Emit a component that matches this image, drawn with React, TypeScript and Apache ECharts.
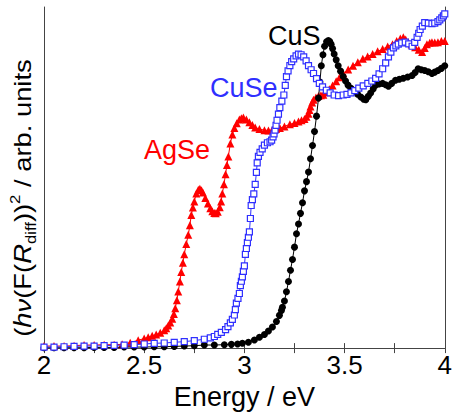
import React, { useEffect, useRef } from 'react';
import * as echarts from 'echarts';

const energyTicks = [2, 2.5, 3, 3.5, 4];

const agseEnergy = [2.00, 2.05, 2.10, 2.15, 2.20, 2.25, 2.30, 2.35, 2.39, 2.43, 2.47, 2.50, 2.52, 2.54, 2.56, 2.58, 2.60, 2.61, 2.62, 2.63, 2.64, 2.648, 2.655, 2.663, 2.67, 2.678, 2.685, 2.693, 2.70, 2.71, 2.72, 2.728, 2.735, 2.743, 2.75, 2.76, 2.77, 2.778, 2.786, 2.793, 2.805, 2.818, 2.83, 2.84, 2.85, 2.857, 2.867, 2.877, 2.884, 2.89, 2.898, 2.906, 2.913, 2.92, 2.93, 2.94, 2.95, 2.962, 2.975, 2.985, 2.995, 3.01, 3.025, 3.04, 3.054, 3.075, 3.10, 3.12, 3.138, 3.158, 3.177, 3.20, 3.227, 3.25, 3.27, 3.285, 3.30, 3.31, 3.32, 3.325, 3.33, 3.338, 3.345, 3.357, 3.37, 3.382, 3.394, 3.41, 3.424, 3.44, 3.458, 3.475, 3.493, 3.518, 3.542, 3.566, 3.591, 3.615, 3.64, 3.665, 3.69, 3.715, 3.739, 3.76, 3.778, 3.793, 3.805, 3.818, 3.835, 3.852, 3.87, 3.887, 3.90, 3.911, 3.925, 3.936, 3.95, 3.966, 3.983, 4.00];
const agseIntensity = [0.6, 0.6, 0.6, 0.7, 0.9, 0.9, 1.0, 1.0, 1.1, 1.6, 2.3, 2.8, 3.2, 3.6, 4.0, 4.5, 5.2, 5.8, 6.6, 7.5, 8.6, 10.0, 11.7, 14.0, 16.6, 19.5, 22.3, 25.0, 27.5, 30.5, 33.2, 36.0, 39.0, 41.2, 43.0, 45.3, 46.4, 46.7, 46.3, 45.6, 44.0, 42.4, 41.0, 40.1, 39.6, 39.5, 40.0, 41.3, 43.0, 45.3, 48.0, 51.0, 53.7, 56.2, 60.0, 62.6, 64.5, 65.9, 67.0, 67.4, 67.6, 67.0, 66.2, 65.4, 64.7, 64.2, 63.9, 63.8, 63.9, 64.2, 64.5, 65.0, 65.6, 66.0, 66.4, 66.8, 67.2, 67.8, 68.7, 69.8, 70.8, 72.0, 72.8, 73.5, 73.9, 74.1, 74.3, 75.0, 75.9, 77.0, 78.2, 79.4, 80.5, 81.7, 82.8, 83.8, 84.8, 85.5, 86.2, 87.0, 87.7, 88.4, 89.1, 90.0, 90.8, 91.1, 90.5, 89.7, 89.0, 88.2, 87.5, 86.8, 88.0, 89.1, 89.5, 89.7, 89.6, 89.7, 90.0, 90.0];

const cuseEnergy = [2.00, 2.05, 2.10, 2.15, 2.20, 2.25, 2.30, 2.35, 2.40, 2.45, 2.50, 2.55, 2.60, 2.65, 2.70, 2.75, 2.80, 2.83, 2.85, 2.867, 2.885, 2.906, 2.918, 2.93, 2.94, 2.95, 2.955, 2.96, 2.968, 2.975, 2.98, 2.985, 2.99, 2.995, 3.00, 3.005, 3.01, 3.015, 3.02, 3.025, 3.03, 3.034, 3.04, 3.047, 3.054, 3.06, 3.064, 3.07, 3.078, 3.089, 3.10, 3.115, 3.128, 3.136, 3.143, 3.148, 3.153, 3.158, 3.163, 3.17, 3.177, 3.187, 3.197, 3.204, 3.21, 3.218, 3.227, 3.236, 3.246, 3.258, 3.27, 3.283, 3.296, 3.308, 3.32, 3.333, 3.345, 3.36, 3.374, 3.39, 3.409, 3.428, 3.448, 3.47, 3.493, 3.512, 3.532, 3.551, 3.571, 3.593, 3.616, 3.636, 3.655, 3.672, 3.69, 3.705, 3.719, 3.731, 3.744, 3.756, 3.768, 3.785, 3.803, 3.82, 3.837, 3.85, 3.862, 3.87, 3.877, 3.888, 3.90, 3.918, 3.936, 3.95, 3.966, 3.975, 3.985, 3.993, 4.00];
const cuseIntensity = [0.3, 0.3, 0.4, 0.5, 0.6, 0.6, 0.7, 0.8, 0.9, 1.0, 1.2, 1.4, 1.5, 1.7, 1.9, 2.2, 2.6, 3.0, 3.4, 4.0, 4.6, 5.4, 6.3, 7.4, 8.4, 9.7, 11.3, 13.2, 14.6, 16.0, 18.3, 19.6, 20.9, 22.5, 24.1, 27.5, 29.2, 30.9, 32.5, 34.1, 38.0, 41.8, 43.5, 45.2, 48.0, 51.5, 54.3, 56.2, 57.4, 58.4, 59.5, 60.2, 60.5, 61.0, 61.9, 62.8, 63.9, 65.3, 66.8, 68.6, 70.5, 72.4, 74.2, 77.0, 79.6, 81.3, 82.8, 84.0, 84.8, 85.7, 86.2, 86.0, 85.4, 84.2, 82.8, 81.6, 80.5, 79.0, 77.6, 76.6, 75.6, 74.8, 74.2, 74.0, 74.2, 74.4, 74.8, 75.5, 76.2, 76.9, 77.6, 78.3, 79.1, 80.4, 81.9, 83.6, 85.4, 86.8, 88.0, 88.6, 89.1, 89.5, 89.7, 89.2, 88.5, 89.6, 91.1, 92.3, 93.4, 94.4, 95.4, 95.3, 95.1, 95.3, 95.7, 96.2, 96.8, 97.4, 98.0];

const cusEnergy = [2.00, 2.05, 2.10, 2.15, 2.20, 2.25, 2.30, 2.35, 2.40, 2.45, 2.50, 2.55, 2.60, 2.65, 2.70, 2.75, 2.80, 2.85, 2.90, 2.935, 2.966, 2.99, 3.02, 3.05, 3.075, 3.10, 3.12, 3.14, 3.16, 3.175, 3.185, 3.19, 3.20, 3.21, 3.22, 3.23, 3.24, 3.25, 3.26, 3.27, 3.28, 3.29, 3.30, 3.31, 3.32, 3.33, 3.34, 3.35, 3.36, 3.37, 3.377, 3.384, 3.392, 3.40, 3.41, 3.419, 3.426, 3.433, 3.44, 3.448, 3.458, 3.468, 3.48, 3.493, 3.505, 3.517, 3.532, 3.547, 3.565, 3.581, 3.595, 3.606, 3.618, 3.63, 3.643, 3.655, 3.672, 3.69, 3.705, 3.719, 3.735, 3.754, 3.773, 3.793, 3.815, 3.837, 3.852, 3.867, 3.883, 3.90, 3.918, 3.936, 3.95, 3.966, 3.983, 4.00];
const cusIntensity = [0.1, 0.1, 0.1, 0.1, 0.1, 0.2, 0.2, 0.2, 0.3, 0.3, 0.3, 0.4, 0.4, 0.5, 0.6, 0.7, 0.9, 0.9, 1.0, 1.1, 1.2, 1.4, 1.7, 2.4, 3.2, 4.0, 5.0, 6.2, 7.8, 9.6, 11.0, 12.0, 13.8, 16.5, 19.5, 22.8, 26.0, 29.6, 33.5, 36.4, 39.5, 42.6, 46.1, 48.8, 51.6, 55.5, 59.4, 63.5, 68.0, 73.3, 78.0, 82.8, 86.0, 88.5, 89.8, 90.2, 89.9, 89.1, 87.8, 86.2, 84.5, 82.8, 81.2, 79.6, 78.3, 77.1, 76.2, 75.3, 74.4, 73.6, 73.0, 72.8, 73.8, 74.8, 76.0, 77.1, 77.4, 77.6, 77.2, 76.8, 77.6, 78.5, 78.8, 79.1, 79.5, 79.9, 80.8, 81.9, 81.6, 81.4, 81.0, 80.5, 80.9, 81.4, 82.0, 82.8];

const FONT = 'Liberation Sans, Arial, sans-serif';
const RED = '#ff0000';
const BLUE = '#2f2fff';
const BLACK = '#000000';
const FRAME = '#444444';

const pair = (xs: number[], ys: number[]) => xs.map((x, i) => [x, ys[i]]);

export default function App() {
  const ref = useRef<HTMLDivElement>(null);
  useEffect(() => {
    if (!ref.current) return;
    const chart = echarts.init(ref.current, null, { renderer: 'svg' });
    const axisCommon = {
      type: 'value',
      min: 2,
      max: 4,
      interval: 0.25,
      axisLine: { show: true, lineStyle: { color: FRAME, width: 1 } },
      axisTick: { show: true, inside: true, length: 5, lineStyle: { color: FRAME, width: 1 } },
      splitLine: { show: false },
    };
    chart.setOption({
      animation: false,
      grid: { left: 44, right: 5, top: 7, bottom: 59 },
      xAxis: [
        {
          ...axisCommon,
          position: 'bottom',
          axisLabel: {
            show: true,
            margin: 4,
            fontSize: 26,
            color: '#000',
            fontFamily: FONT,
            formatter: (v: number) => (energyTicks.some((t) => Math.abs(t - v) < 1e-6) ? String(v) : ''),
          },
          name: 'Energy / eV',
          nameLocation: 'middle',
          nameGap: 27,
          nameTextStyle: { fontSize: 27, color: '#000', fontFamily: FONT },
        },
        {
          ...axisCommon,
          position: 'top',
          axisLabel: { show: false },
        },
      ],
      yAxis: [
        {
          type: 'value',
          min: 0,
          max: 100,
          position: 'left',
          axisLine: { show: true, lineStyle: { color: FRAME, width: 1 } },
          axisTick: { show: false },
          axisLabel: { show: false },
          splitLine: { show: false },
        },
        {
          type: 'value',
          min: 0,
          max: 100,
          position: 'right',
          axisLine: { show: true, lineStyle: { color: FRAME, width: 1 } },
          axisTick: { show: false },
          axisLabel: { show: false },
          splitLine: { show: false },
        },
      ],
      series: [
        {
          name: 'AgSe',
          type: 'line',
          data: pair(agseEnergy, agseIntensity),
          symbol: 'triangle',
          symbolSize: 8,
          itemStyle: { color: RED },
          lineStyle: { color: RED, width: 1 },
          z: 2,
        },
        {
          name: 'CuS',
          type: 'line',
          data: pair(cusEnergy, cusIntensity),
          symbol: 'circle',
          symbolSize: 7,
          itemStyle: { color: BLACK },
          lineStyle: { color: BLACK, width: 1 },
          z: 3,
        },
        {
          name: 'CuSe',
          type: 'line',
          data: pair(cuseEnergy, cuseIntensity),
          symbol: 'rect',
          symbolSize: 6,
          itemStyle: { color: '#ffffff', borderColor: BLUE, borderWidth: 1.2 },
          lineStyle: { color: BLUE, width: 1 },
          z: 4,
        },
      ],
      graphic: [
        {
          type: 'text',
          x: 268,
          y: 36,
          style: { text: 'CuS', fontSize: 27, fontFamily: FONT, fill: BLACK, textAlign: 'left', textVerticalAlign: 'middle' },
          z: 10,
        },
        {
          type: 'text',
          x: 210,
          y: 88,
          style: { text: 'CuSe', fontSize: 27, fontFamily: FONT, fill: BLUE, textAlign: 'left', textVerticalAlign: 'middle' },
          z: 10,
        },
        {
          type: 'text',
          x: 144,
          y: 150,
          style: { text: 'AgSe', fontSize: 27, fontFamily: FONT, fill: RED, textAlign: 'left', textVerticalAlign: 'middle' },
          z: 10,
        },
        {
          type: 'text',
          x: 23,
          y: 198,
          rotation: Math.PI / 2,
          scaleX: 1.19,
          scaleY: 1,
          style: {
            text: '{p|(}{i|hν}{p|(F(}{i|R}{sub|diff}{p|))}{sup|2}{p| / arb. units}',
            textAlign: 'center',
            textVerticalAlign: 'middle',
            fill: '#000',
            rich: {
              p: { fontSize: 23, fontFamily: FONT, lineHeight: 30, fill: '#000' },
              i: { fontSize: 23, fontFamily: FONT, fontStyle: 'italic', lineHeight: 30, fill: '#000' },
              sub: { fontSize: 14, fontFamily: FONT, lineHeight: 15, verticalAlign: 'bottom', fill: '#000' },
              sup: { fontSize: 14, fontFamily: FONT, lineHeight: 15, verticalAlign: 'top', fill: '#000' },
            },
          },
        },
      ],
    });
    return () => chart.dispose();
  }, []);
  return <div ref={ref} style={{ position: 'absolute', left: 0, top: 0, width: 455, height: 415 }} />;
}
